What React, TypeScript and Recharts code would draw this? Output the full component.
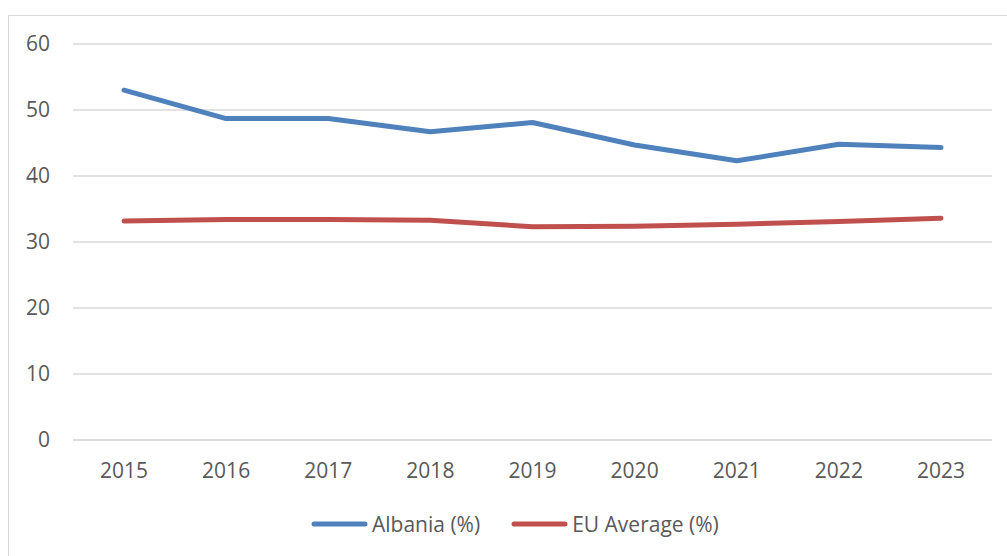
import React from "react";
import { LineChart, Line, XAxis, YAxis, CartesianGrid, Legend } from "recharts";

const years = ["2015", "2016", "2017", "2018", "2019", "2020", "2021", "2022", "2023"];
const albania = [53.0, 48.7, 48.7, 46.7, 48.1, 44.7, 42.3, 44.8, 44.3];
const euAverage = [33.2, 33.4, 33.4, 33.3, 32.3, 32.4, 32.7, 33.1, 33.6];
const yTicks = [0, 10, 20, 30, 40, 50, 60];

const seriesNames = { albania: "Albania (%)", eu: "EU Average (%)" };
const colors = { albania: "#4f81bd", eu: "#c0504d" };

const data = years.map((y, i) => ({ year: y, albania: albania[i], eu: euAverage[i] }));

const FONT = "'Open Sans', sans-serif";
const TEXT = "#595959";

const LegendContent = (props: any) => {
  const items = props.payload || [];
  return (
    <div style={{ display: "flex", alignItems: "center", fontFamily: FONT, fontSize: 21, color: TEXT, height: 30 }}>
      {items.map((it: any, i: number) => (
        <div key={i} style={{ display: "flex", alignItems: "center", marginLeft: i === 0 ? 0 : 31 }}>
          <svg width={57} height={8} style={{ marginRight: 4 }}>
            <line x1={3} y1={4} x2={54} y2={4} stroke={it.color} strokeWidth={5} strokeLinecap="round" />
          </svg>
          <span style={{ lineHeight: "30px" }}>{it.value}</span>
        </div>
      ))}
    </div>
  );
};

export default function App() {
  return (
    <div style={{ position: "fixed", left: 0, top: 0, width: 1007, height: 556, overflow: "hidden", background: "#fff" }}>
      <div
        style={{
          position: "absolute",
          left: 8,
          top: 15,
          width: 1020,
          height: 570,
          border: "1px solid #d9d9d9",
          boxSizing: "border-box",
        }}
      />
      <div style={{ position: "absolute", left: 0, top: 0 }}>
        <LineChart width={1007} height={556} data={data} margin={{ top: 44, right: 15, left: 13, bottom: 46 }}>
          <CartesianGrid vertical={false} stroke="#d9d9d9" strokeWidth={1.3} />
          <XAxis
            dataKey="year"
            padding={{ left: 51, right: 51 }}
            axisLine={{ stroke: "#d9d9d9", strokeWidth: 1.3 }}
            tickLine={false}
            tickSize={0}
            tickMargin={23}
            height={40}
            tick={{ fill: TEXT, fontSize: 21, fontFamily: FONT }}
          />
          <YAxis
            domain={[0, 60]}
            ticks={yTicks}
            axisLine={false}
            tickLine={false}
            tickSize={0}
            tickMargin={23}
            width={60}
            tick={{ fill: TEXT, fontSize: 21, fontFamily: FONT }}
          />
          <Legend
            verticalAlign="bottom"
            content={<LegendContent />}
            wrapperStyle={{ top: 509, bottom: "auto", left: 311, width: 450, height: 30 }}
          />
          <Line
            type="linear"
            dataKey="albania"
            name={seriesNames.albania}
            stroke={colors.albania}
            strokeWidth={5}
            strokeLinecap="round"
            strokeLinejoin="round"
            dot={false}
            activeDot={false}
            isAnimationActive={false}
          />
          <Line
            type="linear"
            dataKey="eu"
            name={seriesNames.eu}
            stroke={colors.eu}
            strokeWidth={5}
            strokeLinecap="round"
            strokeLinejoin="round"
            dot={false}
            activeDot={false}
            isAnimationActive={false}
          />
        </LineChart>
      </div>
    </div>
  );
}
